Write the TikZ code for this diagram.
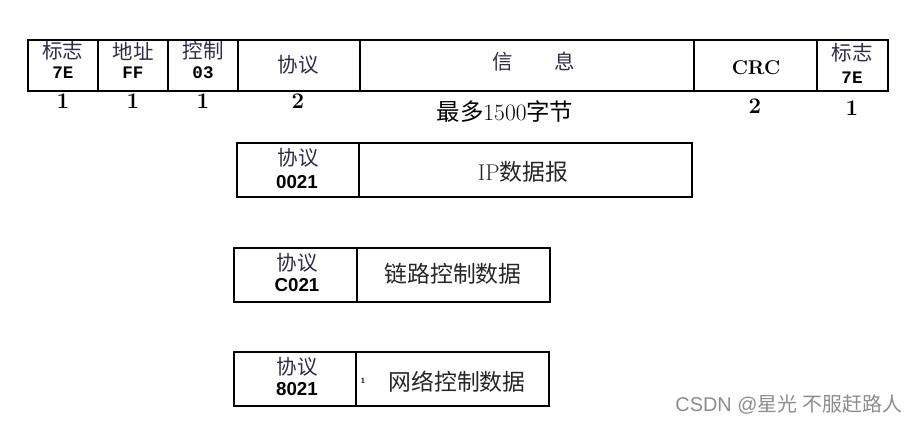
\documentclass[tikz,border=0pt]{standalone}
\usepackage{fontspec}
\newfontfamily\cjk{Noto Sans CJK SC}
\newfontfamily\sansb{Liberation Sans}
\newfontfamily\monob{Liberation Mono}
\usetikzlibrary{positioning}
\definecolor{inkzh}{RGB}{45,45,70}

\begin{document}
\begin{tikzpicture}[x=0.03cm, y=-0.03cm,
    fld/.style={draw, line width=1pt},
    zh/.style={font=\cjk\fontsize{17.5}{19}\selectfont, text=inkzh, inner sep=0pt},
    zhbig/.style={font=\cjk\fontsize{19.5}{21}\selectfont, text=black!85, inner sep=0pt},
    hexv/.style={font=\monob\bfseries\fontsize{15}{16}\selectfont, inner sep=0pt},
    pid/.style={font=\sansb\bfseries\fontsize{16}{18}\selectfont, inner sep=0pt},
    num/.style={font=\bfseries\fontsize{19}{21}\selectfont, inner sep=0pt},
    wm/.style={font=\sansb\fontsize{17}{19}\selectfont, text=black!45, inner sep=0pt}
]
\useasboundingbox (0,0) rectangle (917,424);

% PPP frame
\draw[fld] (28,40) rectangle (98,91);
\draw[fld] (98,40) rectangle (168,91);
\draw[fld] (168,40) rectangle (238,91);
\draw[fld] (238,40) rectangle (360,91);
\draw[fld] (360,40) rectangle (694,91);
\draw[fld] (694,40) rectangle (817,91);
\draw[fld] (817,40) rectangle (888,91);

\node[zh] (flagA) at (63,51) {标志};
\node[hexv] (flagAv) at (63,73) {7E};
\node[zh] (addr) at (133,51) {地址};
\node[hexv] (addrv) at (133,73) {FF};
\node[zh] (ctrl) at (203,51) {控制};
\node[hexv] (ctrlv) at (203,73) {03};
\node[zh] (proto) at (298,65) {协议};
\node[zh] (info) at (534,62) {信\hspace{2em}息};
\node[font=\bfseries\fontsize{17}{19}\selectfont, inner sep=0pt] (crc) at (756,68) {CRC};
\node[zh] (flagB) at (852,53) {标志};
\node[hexv] (flagBv) at (852,78) {7E};

\node[num] (lenA) at (63,101) {1};
\node[num] (lenB) at (133,101) {1};
\node[num] (lenC) at (203,101) {1};
\node[num] (lenD) at (298,101) {2};
\node[font=\cjk\fontsize{20}{22}\selectfont, inner sep=0pt] (lenE) at (505,112) {最多{\rmfamily\fontsize{20}{22}\selectfont 1500}字节};
\node[num] (lenF) at (755,106) {2};
\node[num] (lenG) at (852,108) {1};

% IP datagram
\draw[fld] (237,143) rectangle (692,197);
\draw[fld] (359,143) -- (359,197);
\node[zh] (ipproto) at (298,158) {协议};
\node[pid] (ipval) at (297,182) {0021};
\node[zhbig] (ipdata) at (523,172) {{\rmfamily IP}数据报};

% link control
\draw[fld] (234,248) rectangle (550,302);
\draw[fld] (357,248) -- (357,302);
\node[zh] (lcpproto) at (297,263) {协议};
\node[pid] (lcpval) at (297,285) {C021};
\node[zhbig] (lcpdata) at (453,274) {链路控制数据};

% network control
\draw[fld] (234,352) rectangle (549,406);
\draw[fld] (356,352) -- (356,406);
\node[zh] (ncpproto) at (297,367) {协议};
\node[pid] (ncpval) at (297,389) {8021};
\node[font=\bfseries\scriptsize, inner sep=0pt] (ncpmark) at (363,381) {1};
\node[zhbig] (ncpdata) at (457,382) {网络控制数据};

\node[wm] (mark) at (789,404) {CSDN @{\cjk 星光} {\cjk 不服赶路人}};
\end{tikzpicture}
\end{document}
